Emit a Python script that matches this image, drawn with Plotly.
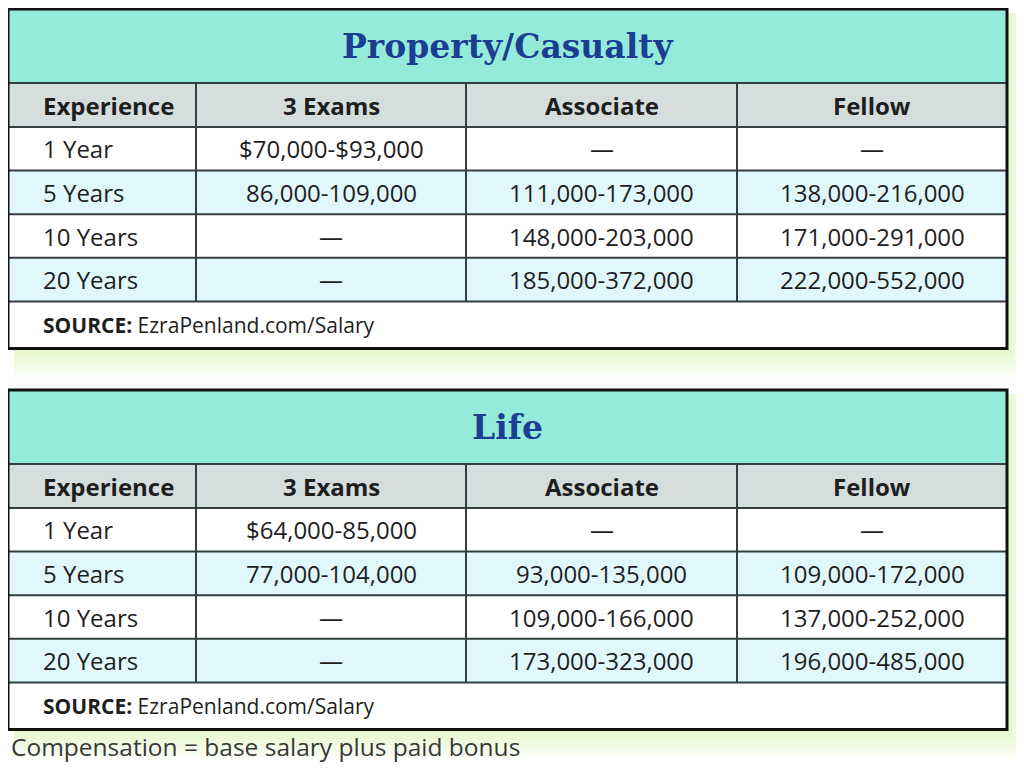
import plotly.graph_objects as go

# table content
col_names = ["Experience", "3 Exams", "Associate", "Fellow"]
experience = ["1 Year", "5 Years", "10 Years", "20 Years"]

pc_title = "Property/Casualty"
pc_exams = ["$70,000-$93,000", "86,000-109,000", "—", "—"]
pc_associate = ["—", "111,000-173,000", "148,000-203,000", "185,000-372,000"]
pc_fellow = ["—", "138,000-216,000", "171,000-291,000", "222,000-552,000"]

life_title = "Life"
life_exams = ["$64,000-85,000", "77,000-104,000", "—", "—"]
life_associate = ["—", "93,000-135,000", "109,000-166,000", "173,000-323,000"]
life_fellow = ["—", "109,000-172,000", "137,000-252,000", "196,000-485,000"]

source = "EzraPenland.com/Salary"
footnote = "Compensation = base salary plus paid bonus"

# styling
W, H = 1024, 779
OFF = 8  # page body margin
mint = "#94EBD9"
gray = "#D5DDDD"
blue_row = "#E0F7FC"
line_col = "#34403F"
title_col = "#1C3E92"
text_col = "#1E1E1E"
body_font = "Open Sans"

col_x = [8, 196, 466, 737, 1007]
row_h = 43.6

shapes = []
annotations = []


def rect(x0, y0, x1, y1, fill, line=None, width=0, opacity=1, layer="below"):
    shapes.append(dict(type="rect", x0=x0, y0=y0, x1=x1, y1=y1, xref="x", yref="y",
                       fillcolor=fill, opacity=opacity, layer=layer,
                       line=dict(color=line or fill, width=width)))


def hline(y, x0, x1, color=line_col, width=2):
    shapes.append(dict(type="line", x0=x0, x1=x1, y0=y, y1=y, xref="x", yref="y",
                       line=dict(color=color, width=width)))


def vline(x, y0, y1, color=line_col, width=2):
    shapes.append(dict(type="line", x0=x, x1=x, y0=y0, y1=y1, xref="x", yref="y",
                       line=dict(color=color, width=width)))


def text(x, y, s, size=24, color=text_col, anchor="center", family=body_font, weight=None):
    font = dict(family=family, size=size, color=color)
    if weight:
        font["weight"] = weight
    annotations.append(dict(x=x, y=y, xref="x", yref="y", text=s, showarrow=False,
                            xanchor=anchor, yanchor="middle", font=font))


def draw_table(top, title, cols):
    left, right = col_x[0], col_x[-1]
    title_bot = top + 74
    head_bot = title_bot + 44
    rows_bot = head_bot + row_h * len(experience)
    bottom = rows_bot + 47

    # soft greenish glow behind the box
    for g, op in [(28, 0.18), (22, 0.2), (16, 0.25), (10, 0.3), (5, 0.35)]:
        rect(left + 6, top + 4, right + g * 0.7, bottom + g, "#E2F6C0", opacity=op)

    rect(left, top, right, bottom, "white")
    rect(left, top, right, title_bot, mint)
    rect(left, title_bot, right, head_bot, gray)
    for i in range(len(experience)):
        y0 = head_bot + i * row_h
        rect(left, y0, right, y0 + row_h, blue_row if i % 2 else "white")

    hline(title_bot, left, right)
    hline(head_bot, left, right)
    for i in range(1, len(experience) + 1):
        hline(head_bot + i * row_h, left, right)
    for x in col_x[1:-1]:
        vline(x, title_bot, rows_bot)
    shapes.append(dict(type="rect", x0=left, y0=top, x1=right, y1=bottom, xref="x", yref="y",
                       line=dict(color="#111111", width=3), fillcolor="rgba(0,0,0,0)"))

    text((left + right) / 2, (top + title_bot) / 2, f"<b>{title}</b>", size=33,
         color=title_col, family="DejaVu Serif")

    for j, name in enumerate(col_names):
        cy = (title_bot + head_bot) / 2
        if j == 0:
            text(col_x[0] + 33, cy, f"<b>{name}</b>", anchor="left")
        else:
            text((col_x[j] + col_x[j + 1]) / 2, cy, f"<b>{name}</b>")

    for i, exp in enumerate(experience):
        cy = head_bot + (i + 0.5) * row_h
        text(col_x[0] + 33, cy, exp, anchor="left")
        for j, values in enumerate(cols, start=1):
            text((col_x[j] + col_x[j + 1]) / 2, cy, values[i])

    text(col_x[0] + 33, (rows_bot + bottom) / 2, f"<b>SOURCE:</b> {source}", size=21,
         anchor="left")


draw_table(9, pc_title, [pc_exams, pc_associate, pc_fellow])
draw_table(390, life_title, [life_exams, life_associate, life_fellow])

text(9, 746, footnote, size=24.5, color="#383838", anchor="left")

fig = go.Figure()
fig.add_trace(go.Scatter(x=[OFF, W], y=[OFF, H], mode="markers", marker=dict(opacity=0),
                         hoverinfo="skip", showlegend=False))
fig.update_layout(
    width=W - OFF, height=H - OFF,
    margin=dict(l=0, r=0, t=0, b=0),
    paper_bgcolor="white", plot_bgcolor="white",
    xaxis=dict(range=[OFF, W], visible=False, fixedrange=True),
    yaxis=dict(range=[H, OFF], visible=False, fixedrange=True),
    shapes=shapes,
    annotations=annotations,
)
fig.write_html("out.html")
